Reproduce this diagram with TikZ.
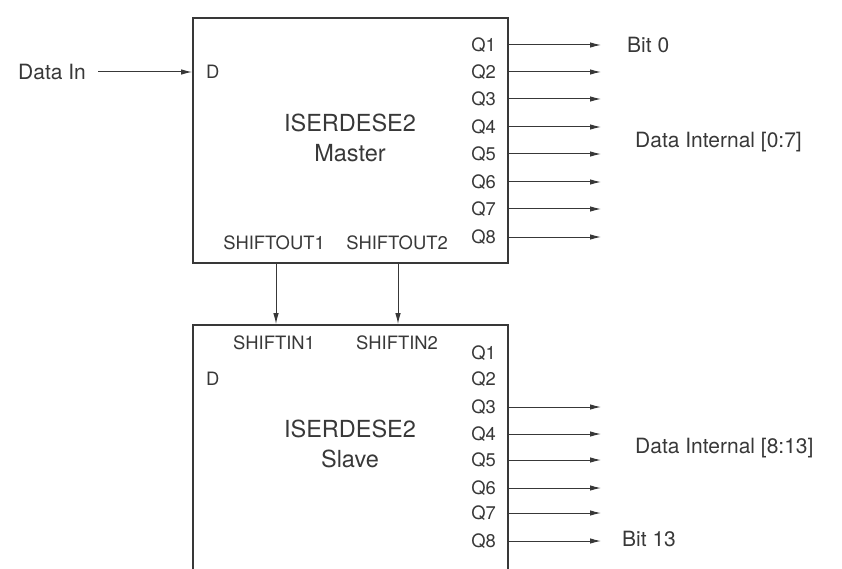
\documentclass[tikz,border=0pt]{standalone}
\usepackage{fontspec}
\setmainfont{TeX Gyre Heros}
\usetikzlibrary{arrows.meta}
\definecolor{ink}{HTML}{383838}
\tikzset{
  blk/.style={draw=ink, line width=1.8pt, minimum width=315pt, inner sep=0pt},
  sm/.style={text=ink, inner sep=0pt, font=\fontsize{18.4}{20}\selectfont},
  md/.style={text=ink, inner sep=0pt, font=\fontsize{21}{23}\selectfont},
  ttl/.style={text=ink, inner sep=0pt, align=center, font=\fontsize{23.5}{30}\selectfont},
  sig/.style={draw=ink, line width=1pt, -{Latex[length=11pt,width=5.5pt]}}
}
\begin{document}
\begin{tikzpicture}[x=1pt,y=-1pt]
\useasboundingbox (0,0) rectangle (842,569);
\clip (0,0) rectangle (842,569);
% blocks
\node[blk, minimum height=245pt] (M) at (350.5,140.5) {};
\node[blk, minimum height=275pt] (S) at (350.5,462.5) {};
\node[ttl] (MT) at (350,138) {ISERDESE2\\Master};
\node[ttl] (ST) at (350,444) {ISERDESE2\\Slave};
% master ports
\node[sm, anchor=west] (MD) at (206,72) {D};
\node[md, anchor=west] (DIN) at (18,72) {Data In};
\draw[sig] (DIN.east) ++(12,0) coordinate (dinst) (dinst) -- (dinst -| M.west);
\node[sm] (SO1) at (274,243) {SHIFTOUT1};
\node[sm] (SO2) at (397,243) {SHIFTOUT2};
\node[sm] (SI1) at (274,343) {SHIFTIN1};
\node[sm] (SI2) at (397,343) {SHIFTIN2};
\node[sm, anchor=west] (SD) at (206,379) {D};
\coordinate (v1) at (276,0);
\coordinate (v2) at (398,0);
\draw[sig] (v1 |- M.south) -- (v1 |- S.north);
\draw[sig] (v2 |- M.south) -- (v2 |- S.north);
% master outputs
\foreach \i/\y in {1/45,2/72,3/99,4/127,5/154,6/182,7/209,8/237}{
  \node[sm, anchor=east] (MQ\i) at (496,\y) {Q\i};
  \coordinate (MO\i) at (601,\y);
  \draw[sig] (MQ\i -| M.east) -- (MO\i);
}
% slave outputs
\foreach \i/\y in {1/353,2/379,3/407,4/434,5/460,6/488,7/513,8/541}{
  \node[sm, anchor=east] (SQ\i) at (496,\y) {Q\i};
}
\foreach \i/\y in {3/407,4/434,5/460,6/488,7/513,8/541}{
  \coordinate (SO\i) at (601,\y);
  \draw[sig] (SQ\i -| S.east) -- (SO\i);
}
% labels
\node[md, anchor=west] (B0) at (627,45) {Bit 0};
\node[md, anchor=west] (DI0) at (635,142) {Data Internal [0:7]};
\node[md, anchor=west] (DI1) at (635,448) {Data Internal [8:13]};
\node[md, anchor=west] (B13) at (622,539) {Bit 13};
\end{tikzpicture}
\end{document}
